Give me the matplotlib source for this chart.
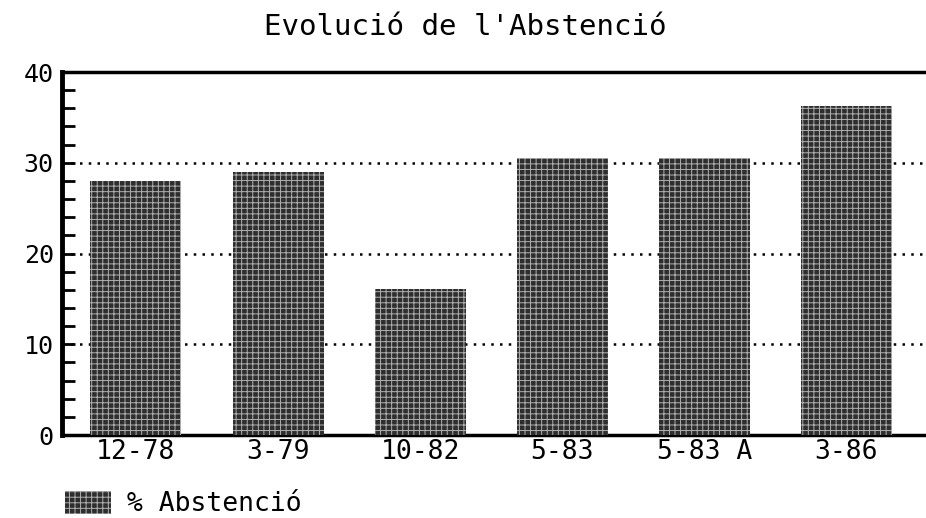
#! /usr/bin/python3

# Evolucio de l'abstencio - bar chart redrawn from a scanned printout

import matplotlib
matplotlib.use('Agg')
import matplotlib.pyplot as plt
from matplotlib.patches import Patch

##############################################################################

labels = ['12-78', '3-79', '10-82', '5-83', '5-83 A', '3-86']
abstencio = [28.0, 29.0, 16.1, 30.5, 30.5, 36.3]

title = "Evolució de l'Abstenció"
legend_label = '% Abstenció'

##############################################################################

font = 'DejaVu Sans Mono'
bar_col = '#2e2e2e'
hatch_col = '#b0b0b0'

plt.rcParams['hatch.linewidth'] = 0.7

fig = plt.figure(figsize=(9.26, 5.18), dpi=100)
ax = fig.add_axes([0.067, 0.160, 0.933, 0.701])

x = range(len(labels))
# dark fill, then a light hatch on top of it (printer raster look)
ax.bar(x, abstencio, width=0.64, color=bar_col, linewidth=0, zorder=3)
ax.bar(x, abstencio, width=0.64, facecolor='none', edgecolor=hatch_col,
       hatch='+++', linewidth=0, zorder=4)

ax.set_ylim(0, 40)
ax.set_xlim(-0.52, 5.56)

# Dotted grid at the major ticks only
for v in [10, 20, 30]:
    ax.axhline(v, color='black', linestyle=(0, (1, 2.5)), linewidth=1.8, zorder=1)

ax.set_yticks([0, 10, 20, 30, 40])
ax.set_yticks(range(0, 41, 2), minor=True)
ax.tick_params(axis='y', which='both', direction='in', length=9, width=2,
               labelsize=18, pad=6)
ax.set_xticks(list(x))
ax.set_xticklabels(labels)
ax.tick_params(axis='x', length=0, labelsize=19, pad=3)
for lab in ax.get_xticklabels() + ax.get_yticklabels():
    lab.set_family(font)

ax.spines['left'].set_linewidth(3.5)
ax.spines['top'].set_linewidth(2.5)
ax.spines['bottom'].set_linewidth(2.5)
ax.spines['right'].set_visible(False)

fig.text(0.502, 0.948, title, ha='center', va='center', fontsize=21, family=font)

leg_handle = (Patch(facecolor=bar_col, linewidth=0),
              Patch(facecolor='none', edgecolor=hatch_col, hatch='+++', linewidth=0))
fig.legend([leg_handle], [legend_label], loc='center left',
           bbox_to_anchor=(0.070, 0.027), frameon=False, borderpad=0,
           borderaxespad=0, handlelength=1.75, handleheight=0.95,
           handletextpad=0.6, prop={'family': font, 'size': 19})

fig.savefig('out.png', dpi=100)
